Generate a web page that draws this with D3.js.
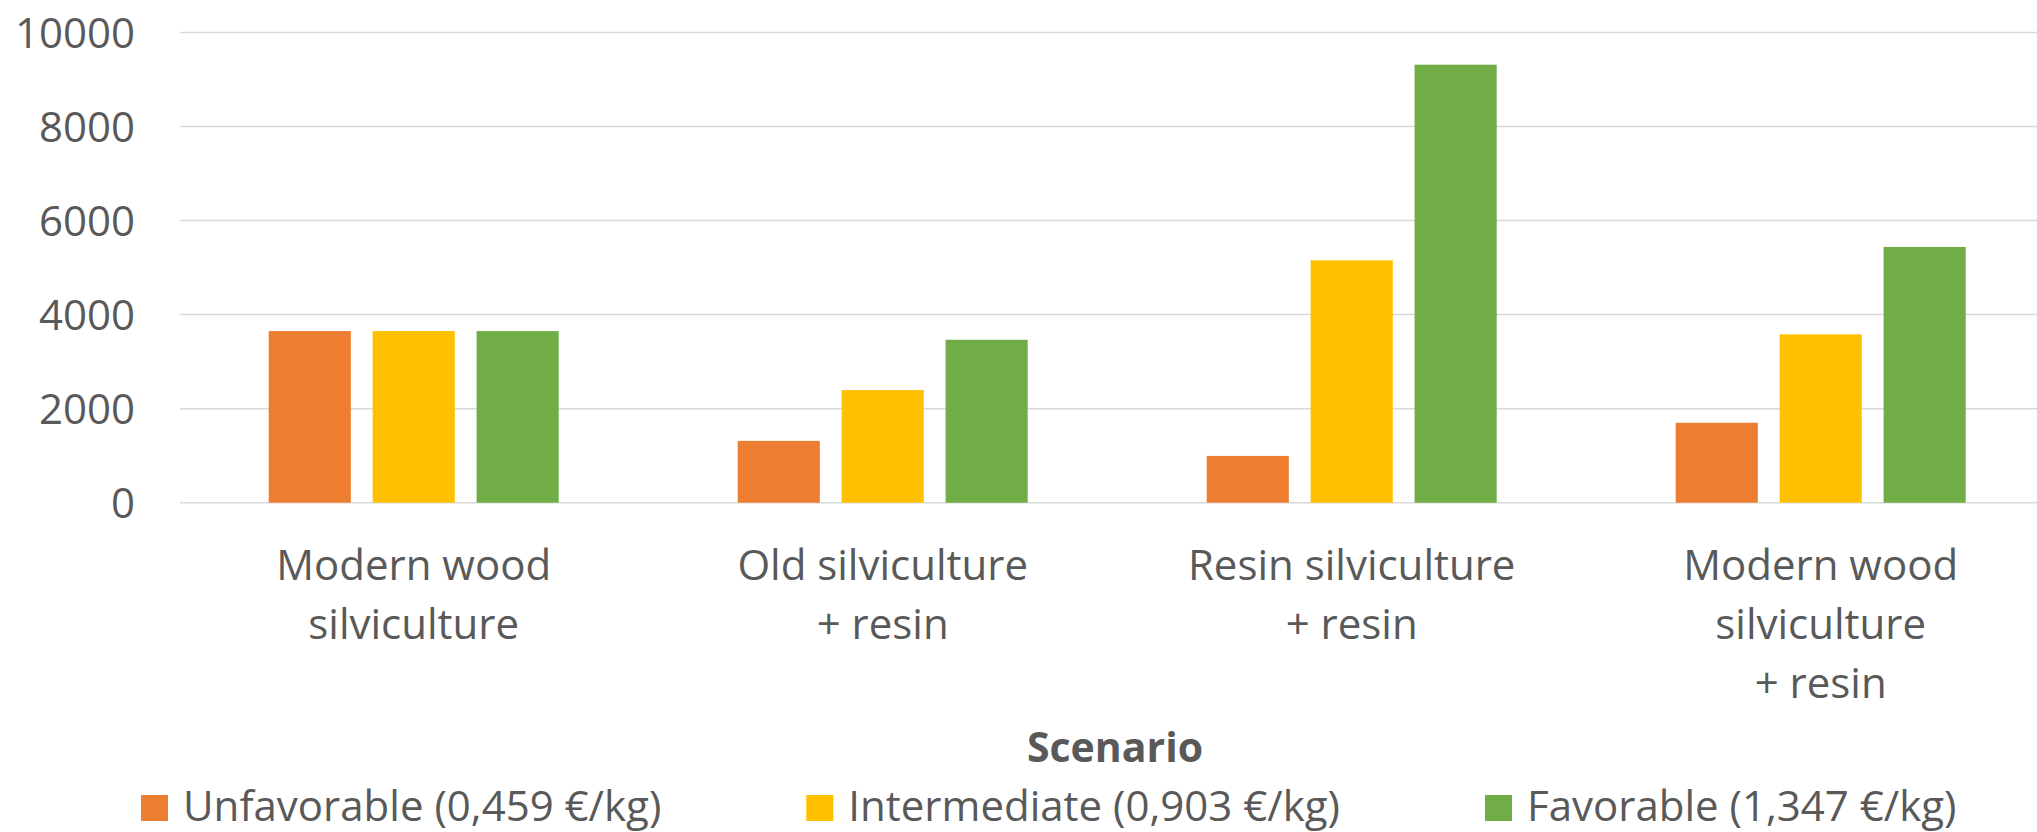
<!DOCTYPE html>
<html>
<head>
<meta charset="utf-8">
<script src="https://cdn.jsdelivr.net/npm/d3@7"></script>
<style>
	html, body { margin: 0; padding: 0; background: #fff; overflow: hidden; }
	text { font-family: "Open Sans", sans-serif; fill: #595959; }
</style>
</head>
<body>
<svg id="chart" width="2037" height="832"></svg>
<script>
// data
var scenarios = [
	["Modern wood", "silviculture"],
	["Old silviculture", "+ resin"],
	["Resin silviculture", "+ resin"],
	["Modern wood", "silviculture", "+ resin"]
];
var seriesNames = ["Unfavorable (0,459 €/kg)", "Intermediate (0,903 €/kg)", "Favorable (1,347 €/kg)"];
var unfavorable = [3650, 1315, 995, 1700];
var intermediate = [3650, 2395, 5155, 3580];
var favorable = [3650, 3465, 9315, 5440];
var yTicks = [0, 2000, 4000, 6000, 8000, 10000];
var colors = ["#ED7D31", "#FFC000", "#70AD47"];

var series = [unfavorable, intermediate, favorable];

var svg = d3.select("#chart"),
	width = +svg.attr("width"),
	height = +svg.attr("height"),
	left = 180,
	fontSize = 42;

var x0 = d3.scaleBand()
	.domain(d3.range(scenarios.length))
	.range([179.2, 179.2 + 469 * 4]);

var x1 = d3.scaleBand()
	.domain(d3.range(series.length))
	.range([89.5, 379.5])
	.paddingInner(0.21);

var y = d3.scaleLinear()
	.domain([0, 10000])
	.range([502.7, 32.5]);

// gridlines
svg.append("g")
	.selectAll("line")
	.data(yTicks)
	.enter().append("line")
	.attr("x1", left)
	.attr("x2", width)
	.attr("y1", function(d) { return y(d); })
	.attr("y2", function(d) { return y(d); })
	.attr("stroke", "#d9d9d9")
	.attr("stroke-width", 1.5);

// y axis labels
var yAxis = svg.append("g")
	.attr("transform", "translate(" + (left - 45) + ",0)")
	.call(d3.axisLeft(y).tickValues(yTicks).tickSize(0).tickPadding(0).tickFormat(d3.format("d")));
yAxis.select(".domain").remove();
yAxis.selectAll("text")
	.attr("dy", "0.35em")
	.style("font-size", fontSize + "px")
	.style("font-family", "'Open Sans', sans-serif")
	.attr("fill", "#595959");

// bars
var groups = svg.append("g")
	.selectAll("g")
	.data(scenarios)
	.enter().append("g")
	.attr("transform", function(d, i) { return "translate(" + x0(i) + ",0)"; });

groups.selectAll("rect")
	.data(function(d, i) { return series.map(function(s, k) { return { k: k, v: s[i] }; }); })
	.enter().append("rect")
	.attr("x", function(d) { return x1(d.k); })
	.attr("width", x1.bandwidth())
	.attr("y", function(d) { return y(d.v); })
	.attr("height", function(d) { return y(0) - y(d.v); })
	.attr("fill", function(d) { return colors[d.k]; });

// category labels
var catLabels = svg.append("g")
	.selectAll("text")
	.data(scenarios)
	.enter().append("text")
	.attr("text-anchor", "middle")
	.style("font-size", fontSize + "px")
	.attr("x", function(d, i) { return x0(i) + x0.bandwidth() / 2; })
	.attr("y", 580);

catLabels.selectAll("tspan")
	.data(function(d) { return d; })
	.enter().append("tspan")
	.attr("x", function() { return d3.select(this.parentNode).attr("x"); })
	.attr("dy", function(d, i) { return i ? 59 : 0; })
	.text(function(d) { return d; });

// axis title
svg.append("text")
	.attr("x", 1115)
	.attr("y", 762)
	.attr("text-anchor", "middle")
	.style("font-size", "41px")
	.style("font-weight", "bold")
	.text("Scenario");

// legend
var legend = svg.append("g"),
	lx = 141;
seriesNames.forEach(function(name, k) {
	legend.append("rect")
		.attr("x", lx)
		.attr("y", 795)
		.attr("width", 27)
		.attr("height", 26)
		.attr("fill", colors[k]);
	var t = legend.append("text")
		.attr("x", lx + 42)
		.attr("y", 821)
		.style("font-size", fontSize + "px")
		.text(name);
	lx += 42 + t.node().getComputedTextLength() + 145;
});
</script>
</body>
</html>
